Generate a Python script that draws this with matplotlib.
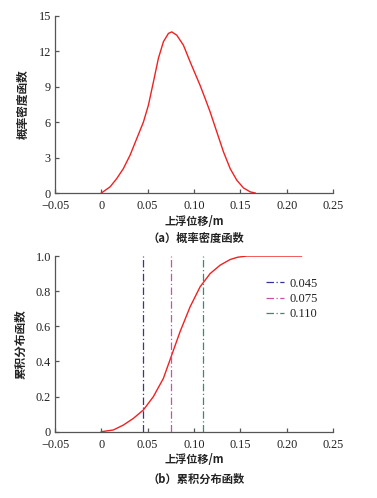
import numpy as np
import matplotlib
matplotlib.use("Agg")
import matplotlib.pyplot as plt

# ---- data ----
pdf_x = [0.000, 0.0094, 0.0166, 0.0238, 0.031, 0.0382, 0.0454, 0.0508, 0.0562, 0.0616,
         0.067, 0.0724, 0.076, 0.0814, 0.0886, 0.0958, 0.1012, 0.1066, 0.1120, 0.1174,
         0.1246, 0.1318, 0.139, 0.1462, 0.1534, 0.1606, 0.166]
pdf_y = [0.00, 0.52, 1.22, 2.07, 3.20, 4.60, 6.00, 7.43, 9.40, 11.40,
         12.80, 13.50, 13.63, 13.35, 12.50, 11.10, 10.10, 9.10, 8.00, 6.86,
         5.17, 3.48, 2.07, 1.08, 0.43, 0.10, 0.00]

cdf_x = [0.000, 0.013, 0.0238, 0.0346, 0.0454, 0.0562, 0.067, 0.076, 0.085, 0.0958,
         0.1066, 0.1174, 0.1282, 0.139, 0.147, 0.157, 0.216]
cdf_y = [0.000, 0.010, 0.038, 0.076, 0.124, 0.200, 0.304, 0.437, 0.570, 0.711,
         0.825, 0.900, 0.948, 0.980, 0.993, 1.000, 1.000]

vlines = [0.045, 0.075, 0.110]
vlabels = ["0.045", "0.075", "0.110"]
vcolors = ["#34349a", "#c852a8", "#3a8a72"]

xticks = [-0.05, 0, 0.05, 0.10, 0.15, 0.20, 0.25]
xticklabels = ["\u22120.05", "0", "0.05", "0.10", "0.15", "0.20", "0.25"]
pdf_yticks = [0, 3, 6, 9, 12, 15]
pdf_yticklabels = ["0", "3", "6", "9", "12", "15"]
cdf_yticks = [0, 0.2, 0.4, 0.6, 0.8, 1.0]
cdf_yticklabels = ["0", "0.2", "0.4", "0.6", "0.8", "1.0"]

xlabel = "上浮位移/m"
pdf_ylabel = "概率密度函数"
cdf_ylabel = "累积分布函数"
cap_a = "（a）概率密度函数"
cap_b = "（b）累积分布函数"

serif = ["Liberation Serif", "DejaVu Serif"]
cjk = ["Noto Sans CJK SC", "DejaVu Sans"]
mixed = ["Noto Sans CJK SC", "Liberation Serif"]
plt.rcParams["font.family"] = serif
plt.rcParams["axes.unicode_minus"] = True

tick_fs = 8.8
lab_fs = 8.0
ylab_fs = 8.4
cap_fs = 8.1
leg_fs = 9.0
cjk_w = "bold"
txt_col = "#222222"

fig = plt.figure(figsize=(3.77, 4.98), dpi=100)
ax1 = fig.add_axes([0.1459, 0.6124, 0.7374, 0.3561])
ax2 = fig.add_axes([0.1459, 0.1331, 0.7374, 0.3528])

spine_col = "#555555"

def style(ax, yticks, yticklabels, ylim):
    ax.set_xlim(-0.05, 0.25)
    ax.set_ylim(*ylim)
    for s in ["top", "right"]:
        ax.spines[s].set_visible(False)
    for s in ["left", "bottom"]:
        ax.spines[s].set_color(spine_col)
        ax.spines[s].set_linewidth(0.9)
    ax.set_xticks(xticks)
    ax.set_xticklabels(xticklabels, family=serif, fontsize=tick_fs, color=txt_col)
    ax.set_yticks(yticks)
    ax.set_yticklabels(yticklabels, family=serif, fontsize=tick_fs, color=txt_col)
    ax.tick_params(direction="in", length=3, width=0.9, color=spine_col)
    ax.tick_params(axis="x", pad=5)
    ax.tick_params(axis="y", pad=3)
    ax.set_xlabel(xlabel, family=mixed, fontsize=lab_fs, labelpad=2,
                  weight=cjk_w, color=txt_col)

style(ax1, pdf_yticks, pdf_yticklabels, (0, 15))
ax1.plot(pdf_x, pdf_y, color="#ee2222", lw=1.0)
ax1.set_ylabel(pdf_ylabel, family=cjk, fontsize=ylab_fs, labelpad=6,
               weight=cjk_w, color=txt_col)

style(ax2, cdf_yticks, cdf_yticklabels, (0, 1.0))
ax2.plot(cdf_x, cdf_y, color="#ee2222", lw=1.0)
for xv, lab, c in zip(vlines, vlabels, vcolors):
    ax2.plot([xv, xv], [0, 1.0], color=c, lw=0.9, ls=(0, (6, 2, 1, 2)), label=lab)
ax2.set_ylabel(cdf_ylabel, family=cjk, fontsize=ylab_fs, labelpad=6,
               weight=cjk_w, color=txt_col)
leg = ax2.legend(loc="upper left", bbox_to_anchor=(0.717, 0.94), frameon=False,
                 prop={"family": serif, "size": leg_fs}, handlelength=1.5,
                 handletextpad=0.4, labelspacing=0.25)
for t in leg.get_texts():
    t.set_color(txt_col)

fig.text(0.5 + 0.02, 1 - 238 / 498, cap_a, family=cjk, fontsize=cap_fs, ha="center",
         va="center", weight=cjk_w, color=txt_col)
fig.text(0.5 + 0.02, 1 - 479 / 498, cap_b, family=cjk, fontsize=cap_fs, ha="center",
         va="center", weight=cjk_w, color=txt_col)

fig.savefig("out.png", dpi=100)
